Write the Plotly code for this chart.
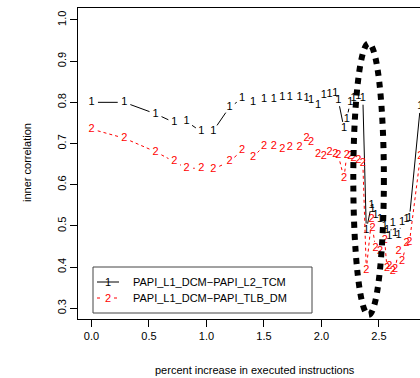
import math
import plotly.graph_objects as go

# ---------------- data ----------------
x_vals = [0.0, 0.285, 0.558, 0.72, 0.828, 0.955, 1.06, 1.20, 1.31, 1.405,
          1.50, 1.585, 1.66, 1.725, 1.81, 1.87, 1.91, 1.97, 2.02, 2.07,
          2.12, 2.146, 2.196, 2.22, 2.25, 2.28, 2.32, 2.36, 2.39, 2.435,
          2.445, 2.47, 2.51, 2.55, 2.57, 2.59, 2.62, 2.64, 2.67, 2.70,
          2.74, 2.765, 2.86]
l1_l2 = [0.80, 0.80, 0.772, 0.751, 0.753, 0.729, 0.731, 0.788, 0.809, 0.80,
         0.807, 0.808, 0.812, 0.812, 0.812, 0.811, 0.806, 0.794, 0.818, 0.82,
         0.822, 0.806, 0.737, 0.76, 0.80, 0.81, 0.814, 0.81, 0.49, 0.551,
         0.54, 0.527, 0.515, 0.50, 0.49, 0.474, 0.507, 0.483, 0.478, 0.51,
         0.515, 0.519, 0.79]
l1_tlb = [0.735, 0.713, 0.68, 0.656, 0.64, 0.64, 0.638, 0.656, 0.683, 0.667,
          0.694, 0.694, 0.687, 0.69, 0.69, 0.713, 0.702, 0.675, 0.67, 0.68,
          0.674, 0.672, 0.616, 0.672, 0.668, 0.664, 0.66, 0.652, 0.393, 0.515,
          0.494, 0.446, 0.438, 0.464, 0.397, 0.401, 0.39, 0.395, 0.438, 0.413,
          0.458, 0.46, 0.668]
series_names = ["PAPI_L1_DCM\u2212PAPI_L2_TCM", "PAPI_L1_DCM\u2212PAPI_TLB_DM"]
x_ticks = [0.0, 0.5, 1.0, 1.5, 2.0, 2.5]
x_tick_text = ["0.0", "0.5", "1.0", "1.5", "2.0", "2.5"]
y_ticks = [0.3, 0.4, 0.5, 0.6, 0.7, 0.8, 0.9, 1.0]
y_tick_text = ["0.3", "0.4", "0.5", "0.6", "0.7", "0.8", "0.9", "1.0"]
# highlighted region (dotted ellipse), in data units
ell_x = [2.277, 2.543]
ell_y = [0.284, 0.943]

# ---------------- layout constants ----------------
W, H = 420, 378
ML, MR, MT, MB = 78, 0, 8, 59
PLOT_W = W - ML - MR
PLOT_H = H - MT - MB
X_MIN, X_MAX = -0.117, 2.857
Y_MIN, Y_MAX = 0.274, 1.029
PX_PER_X = PLOT_W / (X_MAX - X_MIN)
PX_PER_Y = PLOT_H / (Y_MAX - Y_MIN)
FONT = "Liberation Sans, Arial, sans-serif"


def gapped(xs, ys, gap=6.5):
    """Line segments between consecutive points, leaving a gap around each point (R type='b')."""
    gx, gy = [], []
    for i in range(len(xs) - 1):
        dx = (xs[i + 1] - xs[i]) * PX_PER_X
        dy = (ys[i + 1] - ys[i]) * PX_PER_Y
        d = math.hypot(dx, dy)
        if d <= 2 * gap:
            continue
        t = gap / d
        gx += [xs[i] + t * (xs[i + 1] - xs[i]), xs[i + 1] - t * (xs[i + 1] - xs[i]), None]
        gy += [ys[i] + t * (ys[i + 1] - ys[i]), ys[i + 1] - t * (ys[i + 1] - ys[i]), None]
    return gx, gy


fig = go.Figure()

for ys, color, dash, label in [(l1_l2, "#000000", "solid", "1"),
                               (l1_tlb, "#ff0000", "3px,3px", "2")]:
    gx, gy = gapped(x_vals, ys)
    fig.add_trace(go.Scatter(x=gx, y=gy, mode="lines",
                             line=dict(color=color, width=1, dash=dash),
                             showlegend=False, hoverinfo="skip"))
    fig.add_trace(go.Scatter(x=x_vals, y=ys, mode="text", text=[label] * len(ys),
                             textposition="middle center",
                             textfont=dict(family=FONT, size=11, color=color),
                             showlegend=False))

# dotted ellipse
fig.add_shape(type="circle", xref="x", yref="y",
              x0=ell_x[0], x1=ell_x[1], y0=ell_y[0], y1=ell_y[1],
              line=dict(color="black", width=6, dash="6px,6px"))


def px2paper_x(px):
    return (px - ML) / PLOT_W


def px2paper_y(py):
    return (H - MB - py) / PLOT_H


# manual legend
fig.add_shape(type="rect", xref="paper", yref="paper",
              x0=px2paper_x(93), x1=px2paper_x(312),
              y0=px2paper_y(313), y1=px2paper_y(267),
              line=dict(color="#444444", width=1), fillcolor="white", layer="above")
rows = [(282, "#000000", "solid", "1", series_names[0]),
        (298, "#ff0000", "3px,3px", "2", series_names[1])]
for py, color, dash, sym, name in rows:
    if sym == "1":
        segs = [(97, 119)]
    else:
        segs = [(97, 102), (114, 119)]
    for a, b in segs:
        fig.add_shape(type="line", xref="paper", yref="paper",
                      x0=px2paper_x(a), x1=px2paper_x(b),
                      y0=px2paper_y(py), y1=px2paper_y(py),
                      line=dict(color=color, width=1, dash=dash), layer="above")
    fig.add_annotation(xref="paper", yref="paper", x=px2paper_x(108), y=px2paper_y(py),
                       text=sym, showarrow=False, xanchor="center", yanchor="middle",
                       font=dict(family=FONT, size=11, color=color))
    fig.add_annotation(xref="paper", yref="paper", x=px2paper_x(131), y=px2paper_y(py),
                       text=name, showarrow=False, xanchor="left", yanchor="middle",
                       font=dict(family=FONT, size=11, color="black"))

# axis titles
fig.add_annotation(xref="paper", yref="paper", x=px2paper_x(255), y=px2paper_y(370),
                   text="percent increase in executed instructions", showarrow=False,
                   xanchor="center", yanchor="middle",
                   font=dict(family=FONT, size=11, color="black"))
fig.add_annotation(xref="paper", yref="paper", x=px2paper_x(27), y=px2paper_y(163),
                   text="inner correlation", showarrow=False, textangle=-90,
                   xanchor="center", yanchor="middle",
                   font=dict(family=FONT, size=11, color="black"))

fig.update_layout(
    width=W, height=H, template="none",
    margin=dict(l=ML, r=MR, t=MT, b=MB, pad=0),
    paper_bgcolor="white", plot_bgcolor="white",
    showlegend=False,
    font=dict(family=FONT, size=11, color="black"),
    xaxis=dict(range=[X_MIN, X_MAX], tickvals=x_ticks, ticktext=x_tick_text,
               ticks="outside", ticklen=7, tickwidth=1, tickcolor="black",
               showline=True, linecolor="black", linewidth=1, mirror=True,
               showgrid=False, zeroline=False, automargin=False,
               tickfont=dict(family=FONT, size=11, color="black")),
    yaxis=dict(range=[Y_MIN, Y_MAX], tickvals=y_ticks, ticktext=y_tick_text,
               ticks="outside", ticklen=7, tickwidth=1, tickcolor="black",
               showline=True, linecolor="black", linewidth=1, mirror=False,
               showgrid=False, zeroline=False, automargin=False, tickangle=-90,
               tickfont=dict(family=FONT, size=11, color="black")),
)

fig.write_html("out.html")
